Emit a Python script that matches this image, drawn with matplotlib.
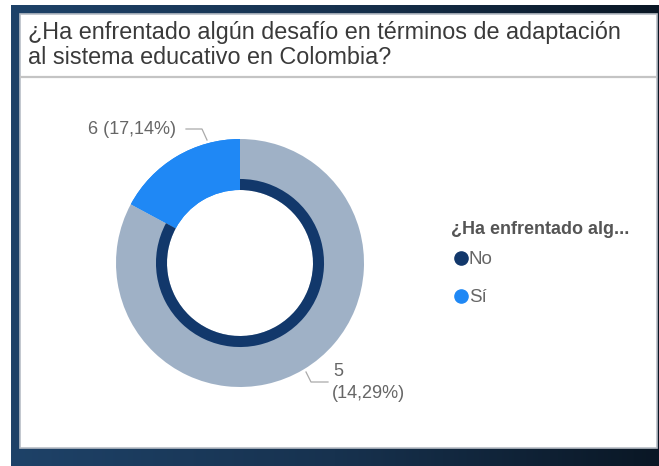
import numpy as np
import matplotlib
matplotlib.use("Agg")
import matplotlib.pyplot as plt
from matplotlib.patches import Rectangle
from matplotlib.colors import LinearSegmentedColormap

# survey answers
categories = ["No", "Sí"]
totals = [29, 6]          # all answers per category
highlighted = [5, 6]      # answers in the current selection
colors = ["#12386B", "#1F88F5"]
faded = ["#9FB1C6", "#1F88F5"]

title = "¿Ha enfrentado algún desafío en términos de adaptación\nal sistema educativo en Colombia?"
legend_title = "¿Ha enfrentado alg..."

W, H = 659, 466
fig = plt.figure(figsize=(W / 100, H / 100), dpi=100)
fig.patch.set_facecolor("white")

def fx(x):
    return x / W

def fy(y):
    return 1 - y / H

font = ["Liberation Sans", "DejaVu Sans"]

# dark frame behind the card
bg = fig.add_axes([fx(11), 0, 1 - fx(11), fy(5)], zorder=-2)
grad = np.linspace(0, 1, 256).reshape(1, -1)
cmap = LinearSegmentedColormap.from_list("frame", ["#1E4268", "#17324F", "#0A1725"])
bg.imshow(grad, aspect="auto", cmap=cmap, extent=[0, 1, 0, 1])
bg.axis("off")

# white card + title separator
fig.patches.append(Rectangle((fx(20), fy(448)), fx(657) - fx(20), fy(14) - fy(448),
                             transform=fig.transFigure, facecolor="white",
                             edgecolor="#B8BEC6", linewidth=1.2, zorder=1))
fig.lines.append(plt.Line2D([fx(21), fx(656)], [fy(77), fy(77)], transform=fig.transFigure,
                            color="#C4C4C4", linewidth=1.6, zorder=2))

fig.text(fx(28), fy(21), title, ha="left", va="top", fontsize=16.8,
         family=font, color="#3A3A3A", linespacing=1.1, zorder=3)

# donut
cx, cy, R = 240, 263, 124
r_in = 73 / 124
half = 130
ax = fig.add_axes([fx(cx - half), fy(cy + half), (2 * half) / W, (2 * half) / H], zorder=5)

order = [1, 0]  # Sí starts at 12 o'clock, going counter-clockwise
vals = [totals[i] for i in order]
ax.pie(vals, startangle=90, counterclock=True, radius=1,
       colors=[faded[i] for i in order],
       wedgeprops=dict(width=1 - r_in, linewidth=0))

# highlighted share drawn as an inner band (area proportional)
for k, i in enumerate(order):
    f = highlighted[i] / totals[i]
    r_hl = np.sqrt(r_in ** 2 + f * (1 - r_in ** 2))
    cols = ["none"] * len(order)
    cols[k] = colors[i]
    ax.pie(vals, startangle=90, counterclock=True, radius=r_hl, colors=cols,
           wedgeprops=dict(width=r_hl - r_in, linewidth=0))

ax.set_xlim(-half / R, half / R)
ax.set_ylim(-half / R, half / R)
ax.set_aspect("equal")
ax.axis("off")

n = sum(totals)
lab_col = "#666666"
si = categories.index("Sí")
no = categories.index("No")
fig.text(fx(88), fy(130), f"{highlighted[si]} ({highlighted[si] / n * 100:.2f}%)".replace(".", ","),
         ha="left", va="center", fontsize=13, color=lab_col, family=font, zorder=6)
fig.lines.append(plt.Line2D([fx(186), fx(202), fx(207)], [fy(129), fy(129), fy(140)],
                            transform=fig.transFigure, color="#AAAAAA", linewidth=0.9, zorder=6))
fig.text(fx(333), fy(372), f"{highlighted[no]}", ha="left", va="center",
         fontsize=13, color=lab_col, family=font, zorder=6)
fig.text(fx(332), fy(393), f"({highlighted[no] / n * 100:.2f}%)".replace(".", ","), ha="left",
         va="center", fontsize=13, color=lab_col, family=font, zorder=6)
fig.lines.append(plt.Line2D([fx(306), fx(311), fx(328)], [fy(372), fy(382), fy(382)],
                            transform=fig.transFigure, color="#AAAAAA", linewidth=0.9, zorder=6))

# legend
fig.text(fx(451), fy(229), legend_title, ha="left", va="center", fontsize=13,
         fontweight="bold", color="#555555", family=font, zorder=6)
for yy, i in [(258, no), (296, si)]:
    fig.lines.append(plt.Line2D([fx(461)], [fy(yy)], transform=fig.transFigure, marker="o",
                                markersize=9.5, color=colors[i], linestyle="none", zorder=6))
    fig.text(fx(469), fy(yy + 1), categories[i], ha="left", va="center", fontsize=13.5,
             color=lab_col, family=font, zorder=6)

fig.savefig("out.png", dpi=100)
